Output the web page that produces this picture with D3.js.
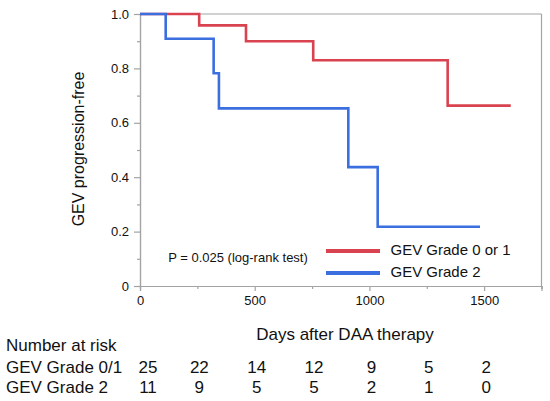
<!DOCTYPE html>
<html><head><meta charset="utf-8">
<script src="https://cdn.jsdelivr.net/npm/d3@7"></script>
<style>
html,body{margin:0;padding:0;background:#fff;}
text{font-family:"Liberation Sans",Arial,sans-serif;fill:#111;}
</style></head>
<body>
<svg id="c" width="550" height="401"></svg>
<script>
// Data
const seriesNames = ["GEV Grade 0 or 1", "GEV Grade 2"];
const grade01Times = [0, 258, 462, 755, 1341, 1616];
const grade01Surv  = [1.0, 0.958, 0.90, 0.83, 0.663, 0.663];
const grade2Times  = [0, 112, 321, 344, 908, 1036, 1482];
const grade2Surv   = [1.0, 0.909, 0.782, 0.653, 0.437, 0.218, 0.218];
const xTicks = [0, 500, 1000, 1500];
const xMinorTicks = [250, 750, 1250, 1750];
const yTicks = [0, 0.2, 0.4, 0.6, 0.8, 1.0];
const yMinorTicks = [0.1, 0.3, 0.5, 0.7, 0.9];
const riskTimes = [0, 250, 500, 750, 1000, 1250, 1500];
const riskLabels = ["GEV Grade 0/1", "GEV Grade 2"];
const risk01 = [25, 22, 14, 12, 9, 5, 2];
const risk2  = [11, 9, 5, 5, 2, 1, 0];
const pText = "P = 0.025 (log-rank test)";

const colors = ["#d9434f", "#3b6fe0"];
const axisColor = "#a3a3a3";

const svg = d3.select("#c");
const x = d3.scaleLinear().domain([0, 1750]).range([140, 541.5]);
const y = d3.scaleLinear().domain([0, 1]).range([286, 14]);

// frame top/right
svg.append("line").attr("x1", x(0)).attr("x2", x(1750)).attr("y1", y(1)).attr("y2", y(1))
  .attr("stroke", axisColor).attr("stroke-width", 1.2);
svg.append("line").attr("x1", x(1750)).attr("x2", x(1750)).attr("y1", y(1)).attr("y2", y(0))
  .attr("stroke", axisColor).attr("stroke-width", 1.2);

// x axis
const gx = svg.append("g").attr("transform", `translate(0,${y(0)})`)
  .call(d3.axisBottom(x).tickValues(xTicks).tickFormat(d3.format("d")).tickSize(5).tickPadding(5));
const gxm = svg.append("g").attr("transform", `translate(0,${y(0)})`)
  .call(d3.axisBottom(x).tickValues(xMinorTicks).tickFormat("").tickSize(3));
// y axis
const gy = svg.append("g").attr("transform", `translate(${x(0)},0)`)
  .call(d3.axisLeft(y).tickValues(yTicks).tickFormat(d => d === 0 ? "0" : d3.format(".1f")(d)).tickSize(6).tickPadding(5));
const gym = svg.append("g").attr("transform", `translate(${x(0)},0)`)
  .call(d3.axisLeft(y).tickValues(yMinorTicks).tickFormat("").tickSize(3));
[gx, gxm, gy, gym].forEach(g => {
  g.select(".domain").attr("stroke", axisColor).attr("stroke-width", 1.2);
  g.selectAll(".tick line").attr("stroke", axisColor).attr("stroke-width", 1.2);
  g.selectAll("text").attr("font-size", 13).attr("fill", "#111")
    .attr("font-family", "Liberation Sans, Arial, sans-serif");
});

// curves
const line = d3.line().x(d => x(d[0])).y(d => y(d[1])).curve(d3.curveStepAfter);
const s1 = grade01Times.map((t, i) => [t, grade01Surv[i]]);
const s2 = grade2Times.map((t, i) => [t, grade2Surv[i]]);
[s1, s2].forEach((s, i) => {
  svg.append("path").datum(s).attr("d", line).attr("fill", "none")
    .attr("stroke", colors[i]).attr("stroke-width", 2.6);
});

// p value text
svg.append("text").attr("x", x(123)).attr("y", y(0.088)).attr("font-size", 13).text(pText);

// legend
seriesNames.forEach((n, i) => {
  const ly = 251 + i * 22;
  svg.append("line").attr("x1", 326).attr("x2", 380).attr("y1", ly).attr("y2", ly)
    .attr("stroke", colors[i]).attr("stroke-width", 4);
  svg.append("text").attr("x", 390.5).attr("y", ly + 4).attr("font-size", 15).text(n);
});

// axis titles
svg.append("text").attr("transform", "translate(84,149) rotate(-90)")
  .attr("text-anchor", "middle").attr("font-size", 16).text("GEV progression-free");
svg.append("text").attr("x", 345).attr("y", 340).attr("text-anchor", "middle")
  .attr("font-size", 17).text("Days after DAA therapy");

// number at risk
svg.append("text").attr("x", 6).attr("y", 350.7).attr("font-size", 17).text("Number at risk");
[risk01, risk2].forEach((row, r) => {
  const by = 372.5 + r * 20;
  svg.append("text").attr("x", 6).attr("y", by).attr("font-size", 17).text(riskLabels[r]);
  svg.selectAll(null).data(row).enter().append("text")
    .attr("x", (d, i) => x(riskTimes[i]) + (i === 0 ? 8 : 2))
    .attr("y", by).attr("text-anchor", "middle").attr("font-size", 17).text(d => d);
});
</script>
</body></html>
